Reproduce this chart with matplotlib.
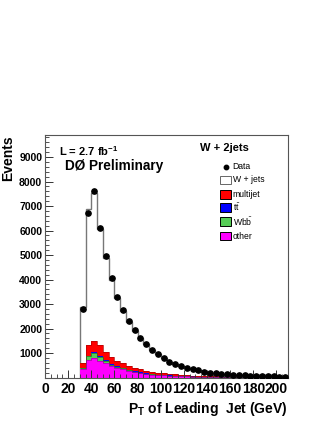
import numpy as np
import matplotlib
matplotlib.use("Agg")
from matplotlib import pyplot as plt
from matplotlib.patches import Rectangle
from matplotlib.lines import Line2D
from matplotlib.ticker import MultipleLocator, FixedLocator

plt.rcParams['font.family'] = ['Liberation Sans', 'DejaVu Sans']
plt.rcParams['mathtext.default'] = 'regular'

# leading jet pT, 5 GeV bins from 30 to 210 GeV
bin_edges = np.arange(30, 215, 5)

data = [2780, 6700, 7600, 6100, 4950, 4080, 3280, 2770, 2290, 1920,
        1630, 1370, 1120, 960, 810, 650, 560, 480, 400, 340,
        300, 230, 190, 170, 150, 135, 115, 100, 95, 80,
        70, 60, 55, 45, 40, 35]

mc_total = [2870, 6880, 7530, 6080, 4860, 3970, 3250, 2700, 2250, 1900,
            1600, 1350, 1120, 950, 800, 650, 550, 470, 400, 340,
            290, 230, 190, 165, 145, 130, 110, 98, 90, 78,
            68, 58, 52, 44, 38, 33]

other = [350, 710, 780, 690, 600, 470, 400, 330, 270, 220,
         180, 145, 120, 100, 85, 70, 60, 50, 42, 35,
         30, 25, 21, 18, 15, 13, 11, 10, 9, 8,
         7, 6, 5, 5, 4, 4]

wbb = [20, 150, 210, 160, 75, 50, 45, 38, 30, 23,
       15, 12, 9, 7, 6, 5, 4, 3, 3, 2,
       2, 2, 2, 1, 1, 1, 1, 1, 1, 1,
       1, 1, 1, 1, 1, 1]

ttbar = [10, 30, 40, 40, 35, 30, 25, 22, 20, 17,
         15, 13, 11, 10, 9, 8, 7, 6, 5, 5,
         4, 4, 3, 3, 3, 2, 2, 2, 2, 2,
         1, 1, 1, 1, 1, 1]

multijet = [220, 440, 470, 440, 340, 300, 220, 190, 160, 140,
            120, 110, 95, 85, 75, 65, 55, 48, 42, 37,
            32, 28, 24, 21, 18, 16, 14, 12, 10, 9,
            8, 7, 6, 5, 5, 4]

x_ticks = [0, 20, 40, 60, 80, 100, 120, 140, 160, 180, 200]
y_ticks = [1000, 2000, 3000, 4000, 5000, 6000, 7000, 8000, 9000]

W, H = 327, 423
fig = plt.figure(figsize=(W / 100, H / 100), dpi=100)
ax = fig.add_axes([45 / W, 1 - 377.5 / H, 243 / W, 242.5 / H])

# cumulative stack, bottom to top: other, Wbb, ttbar, multijet, W+jets
c1 = np.array(other, dtype=float)
c2 = c1 + np.array(wbb)
c3 = c2 + np.array(ttbar)
c4 = c3 + np.array(multijet)
c5 = np.array(mc_total, dtype=float)

ax.stairs(c5, bin_edges, fill=True, facecolor='white', edgecolor='none')
ax.stairs(c5, bin_edges, color='#777777', linewidth=1.0, baseline=0)
ax.stairs(c4, bin_edges, fill=True, facecolor='#ff0000', edgecolor='none')
ax.stairs(c3, bin_edges, fill=True, facecolor='#0000ff', edgecolor='none')
ax.stairs(c2, bin_edges, fill=True, facecolor='#55cc55', edgecolor='none')
ax.stairs(c1, bin_edges, fill=True, facecolor='#ff00ff', edgecolor='none')
for c, col in [(c4, '#b00000'), (c2, '#207020'), (c1, '#a000a0')]:
    ax.stairs(c, bin_edges, color=col, linewidth=0.5, baseline=None)

centers = 0.5 * (bin_edges[:-1] + bin_edges[1:])
ax.plot(centers, data, 'o', color='black', markersize=3.8, zorder=5)

ax.set_xlim(0, 210)
ax.set_ylim(0, 9900)

ax.xaxis.set_major_locator(FixedLocator(x_ticks))
ax.xaxis.set_minor_locator(MultipleLocator(5))
ax.yaxis.set_major_locator(FixedLocator(y_ticks))
ax.yaxis.set_minor_locator(MultipleLocator(200))
ax.tick_params(which='both', direction='in', top=False, right=False,
               colors='#333333')
ax.tick_params(which='major', length=6, width=0.7)
ax.tick_params(which='minor', length=3, width=0.6)
ax.tick_params(axis='x', labelsize=10, pad=3, labelcolor='black')
ax.tick_params(axis='y', labelsize=7.5, pad=2, labelcolor='black')
for lab in ax.get_xticklabels() + ax.get_yticklabels():
    lab.set_fontweight('bold')
for s in ax.spines.values():
    s.set_color('#555555')
    s.set_linewidth(0.8)

ax.set_xlabel('P$_{T}$ of Leading  Jet (GeV)', fontsize=10, fontweight='bold',
              loc='right', labelpad=3)
ax.set_ylabel('Events', fontsize=10, fontweight='bold', loc='top', labelpad=3)


def px(x, y):
    return x / W, 1 - y / H


fig.text(*px(59, 151.5), 'L = 2.7 fb$^{-1}$', fontsize=8, fontweight='bold',
         va='center', ha='left')
fig.text(*px(65, 166), 'DØ Preliminary', fontsize=9.8, fontweight='bold',
         va='center', ha='left')
fig.text(*px(200, 148), 'W + 2jets', fontsize=8, fontweight='bold',
         va='center', ha='left')

# legend, drawn entry by entry like the ROOT TLegend
legend_rows = [
    ('Data', None, None),
    ('W + jets', 'white', '#666666'),
    ('multijet', '#ff0000', 'black'),
    (r't$\bar{t}$', '#0000ff', 'black'),
    (r'Wb$\bar{b}$', '#55cc55', 'black'),
    ('other', '#ff00ff', 'black'),
]
row_y = [166.7, 180, 194.5, 207.5, 221.7, 236]
for (label, face, edge), y in zip(legend_rows, row_y):
    if face is None:
        fig.add_artist(Line2D([px(225.5, y)[0]], [px(225.5, y)[1]], marker='o',
                              color='black', markersize=3.2,
                              transform=fig.transFigure))
    else:
        x0, y0 = px(220, y + 4.3)
        fig.add_artist(Rectangle((x0, y0), 11 / W, 8.6 / H, facecolor=face,
                                 edgecolor=edge, linewidth=0.7,
                                 transform=fig.transFigure))
    fig.text(*px(232.7, y), label, fontsize=6.2, va='center', ha='left')

fig.savefig('out.png', dpi=100)
